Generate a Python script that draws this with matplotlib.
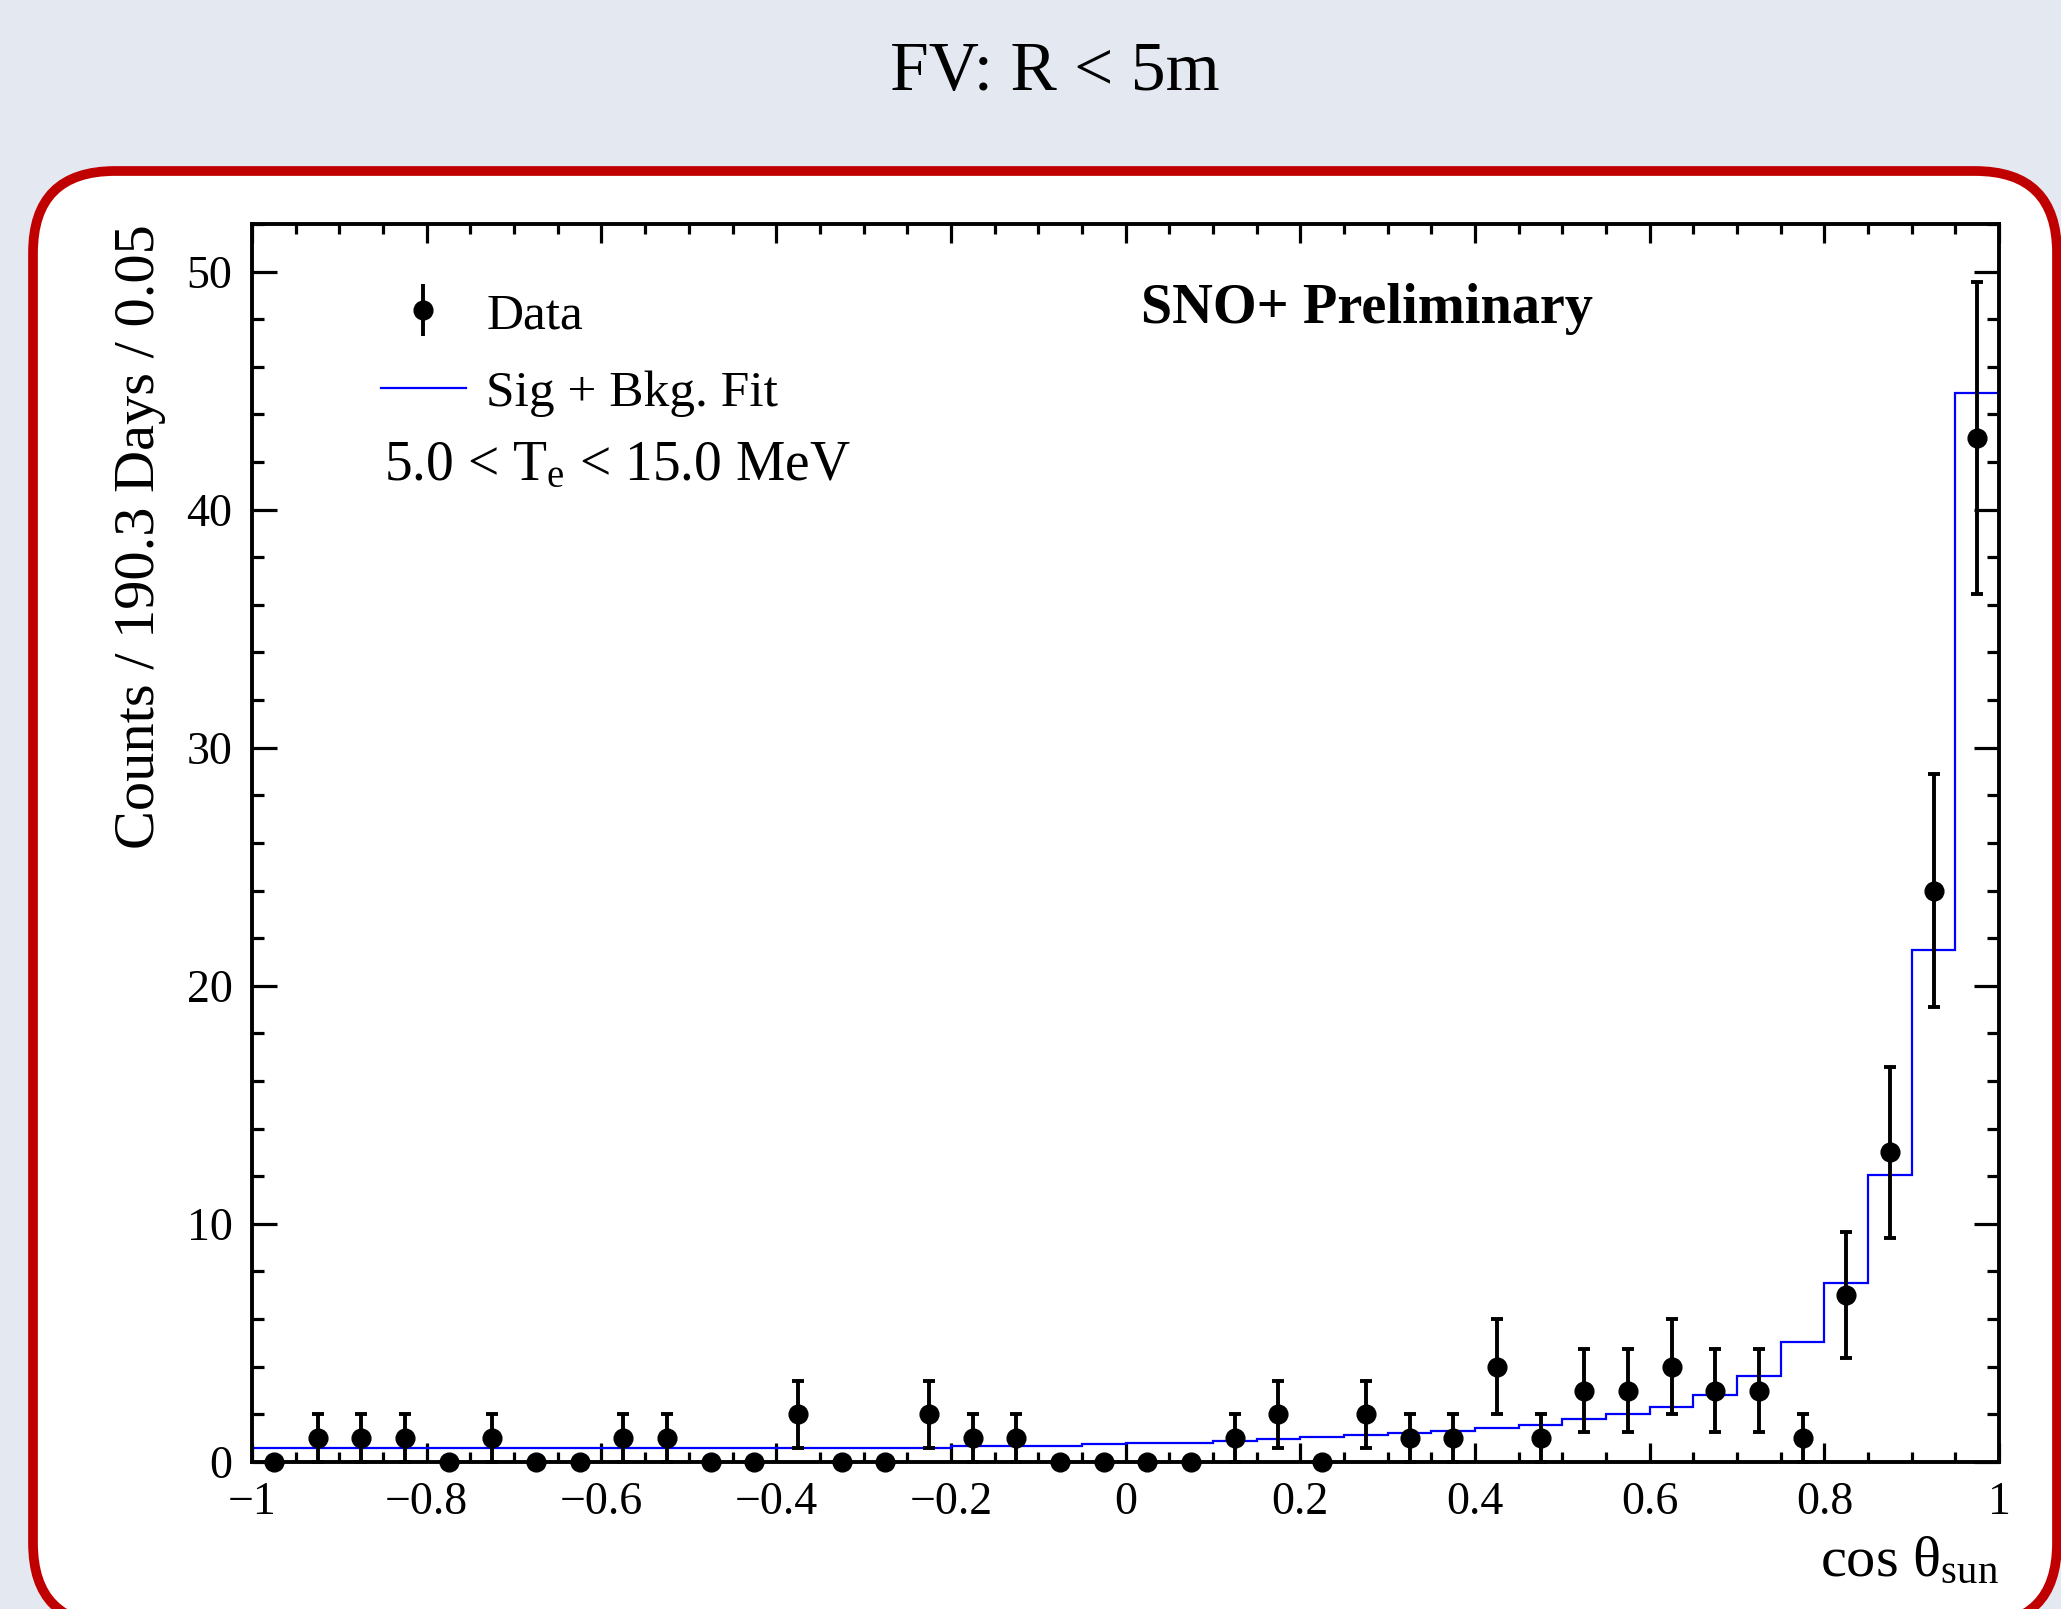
import matplotlib.pyplot as plt
import numpy as np
from matplotlib.patches import FancyBboxPatch
from matplotlib.ticker import MultipleLocator

plt.rcParams['font.family'] = ['Liberation Serif', 'DejaVu Serif']
plt.rcParams['mathtext.fontset'] = 'custom'
plt.rcParams['mathtext.rm'] = 'Liberation Serif'
plt.rcParams['mathtext.it'] = 'Liberation Serif:italic'

# cos(theta_sun) binning: 40 bins of width 0.05
bin_edges = np.linspace(-1.0, 1.0, 41)
bin_centers = 0.5 * (bin_edges[:-1] + bin_edges[1:])

# observed counts per bin
counts = [0, 1, 1, 1, 0, 1, 0, 0, 1, 1,
          0, 0, 2, 0, 0, 2, 1, 1, 0, 0,
          0, 0, 1, 2, 0, 2, 1, 1, 4, 1,
          3, 3, 4, 3, 3, 1, 7, 13, 24, 43]

# signal + background fit prediction per bin
fit = [0.58, 0.58, 0.58, 0.58, 0.58, 0.58, 0.58, 0.58, 0.58, 0.58,
       0.58, 0.58, 0.58, 0.58, 0.58, 0.58, 0.67, 0.67, 0.67, 0.74,
       0.81, 0.81, 0.90, 0.97, 1.05, 1.13, 1.21, 1.29, 1.43, 1.57,
       1.79, 2.03, 2.32, 2.83, 3.62, 5.04, 7.5, 12.05, 21.5, 44.9]

xticks = [-1.0, -0.8, -0.6, -0.4, -0.2, 0.0, 0.2, 0.4, 0.6, 0.8, 1.0]
xtick_labels = ['\u22121', '\u22120.8', '\u22120.6', '\u22120.4', '\u22120.2',
                '0', '0.2', '0.4', '0.6', '0.8', '1']
yticks = [0, 10, 20, 30, 40, 50]

counts = np.array(counts, dtype=float)
errors = np.sqrt(counts)

fig = plt.figure(figsize=(20.61, 16.09), dpi=100)
fig.patch.set_facecolor('#e3e8f1')

# rounded frame behind the plot
frame = FancyBboxPatch((0.33, -0.16), 20.24, 14.54,
                       boxstyle='round,pad=0,rounding_size=0.82',
                       transform=fig.dpi_scale_trans,
                       facecolor='white', edgecolor='#c00000',
                       linewidth=7, zorder=-1)
fig.add_artist(frame)

fig.text(1055 / 2061, 1 - 90 / 1609, 'FV: R < 5m', fontsize=50,
         ha='center', va='baseline')

ax = fig.add_axes([0.1223, 0.0914, 0.8477, 0.7694])

fit_line = ax.stairs(fit, bin_edges, baseline=None, color='#0000ff',
                     linewidth=1.6, zorder=2)

ax.errorbar(bin_centers, counts, yerr=errors, fmt='o', color='black',
            markersize=13.5, elinewidth=2.8, capsize=4, capthick=2.8,
            clip_on=False, zorder=3)

ax.set_xlim(-1, 1)
ax.set_ylim(0, 52)
ax.set_xticks(xticks, labels=xtick_labels)
ax.set_yticks(yticks)
ax.xaxis.set_minor_locator(MultipleLocator(0.05))
ax.yaxis.set_minor_locator(MultipleLocator(2))

ax.tick_params(which='both', direction='in', top=True, right=True,
               width=2.3, labelsize=33)
ax.tick_params(axis='x', which='major', length=13.7, pad=14)
ax.tick_params(axis='x', which='minor', length=7.2)
ax.tick_params(axis='y', which='major', length=18, pad=14)
ax.tick_params(axis='y', which='minor', length=8.6)
for spine in ax.spines.values():
    spine.set_linewidth(2.8)

ax.set_ylabel('Counts / 190.3 Days / 0.05', fontsize=42, loc='top')
ax.yaxis.set_label_coords(-0.049, 1.0)
ax.set_xlabel('cos θ$_{\\mathrm{sun}}$', fontsize=42, loc='right')
ax.xaxis.set_label_coords(1.0, -0.06)

data_handle = ax.errorbar([], [], yerr=[], fmt='o', color='black',
                          markersize=13.5, elinewidth=2.8, capsize=0)
ax.legend([data_handle, fit_line], ['Data', 'Sig + Bkg. Fit'],
          loc='upper left', bbox_to_anchor=(0.0738, 0.945), frameon=False,
          fontsize=37, handlelength=1.65, handletextpad=0.4,
          labelspacing=0.6, borderpad=0, borderaxespad=0)

ax.text(0.0756, 0.804, '5.0 < T$_{\\mathrm{e}}$ < 15.0 MeV', fontsize=40,
        transform=ax.transAxes, ha='left', va='center')
ax.text(0.509, 0.931, 'SNO+ Preliminary', fontsize=40.5, fontweight='bold',
        transform=ax.transAxes, ha='left', va='center')

fig.savefig('out.png', dpi=100)
